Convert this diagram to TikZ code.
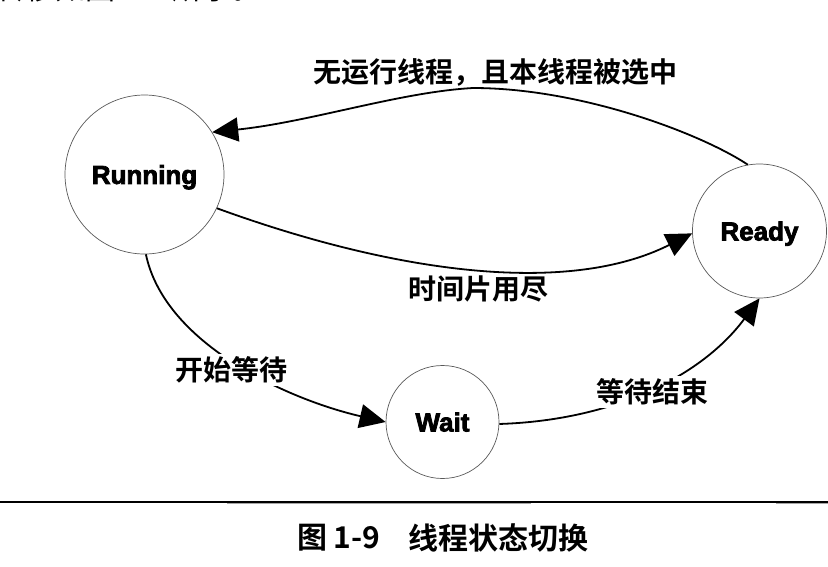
\documentclass[tikz,border=0pt]{standalone}
\usepackage{fontspec}
\setmainfont{Liberation Sans}
\newfontfamily\cjk{Noto Sans CJK SC}[BoldFont={Noto Sans CJK SC Bold}]
\newfontfamily\heavy{Liberation Sans Bold}[FakeBold=3]
\usetikzlibrary{arrows.meta}
\begin{document}
\begin{tikzpicture}[x=1pt,y=-1pt,
  state/.style={circle,draw=black!65,line width=0.7pt,inner sep=0pt,text depth=0pt,font=\heavy\fontsize{26}{30}\selectfont},
  trans/.style={line width=1.8pt,-{Triangle[length=26pt,width=24pt]}},
  lbl/.style={font=\cjk\fontsize{28}{32}\selectfont\bfseries,inner sep=0pt},
  cover/.style={lbl,fill=white,inner xsep=2pt,inner ysep=3pt},
  captxt/.style={anchor=west,font=\cjk\fontsize{30}{34}\selectfont\bfseries,inner sep=0pt}]
\useasboundingbox (0,0) rectangle (828,566);
% clipped line of body text at the top
\node[anchor=base west,font=\cjk\fontsize{30}{34}\selectfont,inner sep=0pt] (toptext) at (-5,-1) {转移如图 1-9 所示。};
% states
\node[state,minimum size=159pt] (running) at (144.5,174.5) {Running};
\node[state,minimum size=134pt] (ready) at (759.5,231) {Ready};
\node[state,minimum size=113pt] (wait) at (442.5,422) {Wait};
% transitions
\coordinate (peak) at (473,88);
\draw[trans] (ready.100) .. controls (700,133) and (580,88) .. (peak) .. controls (400,92) and (310,122) .. (running.32);
\draw[trans] (running.-25) .. controls (400,275) and (570,295) .. (ready.182);
\draw[trans] (running.-89) .. controls (165,345) and (290,400) .. (wait.180);
\draw[trans] (wait.-2) .. controls (620,420) and (705,372) .. (ready.-90);
% labels
\node[lbl] (l1) at (495,72) {无运行线程，且本线程被选中};
\node[lbl] (l2) at (478,289) {时间片用尽};
\node[cover] (l3) at (231,370) {开始等待};
\node[cover] (l4) at (652,392) {等待结束};
% rule and caption
\draw[line width=1.6pt] (0,502) -- (828,502);
\draw[gray!70,line width=1.2pt] (227,503.8) -- (531,503.8);
\draw[gray!70,line width=1.2pt] (776,503.8) -- (828,503.8);
\node[captxt] (cap1) at (297,538) {图 1-9};
\node[captxt] (cap2) at (408,538) {线程状态切换};
\end{tikzpicture}
\end{document}
